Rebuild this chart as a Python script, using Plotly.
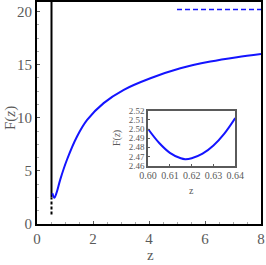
import plotly.graph_objects as go

# Main curve F(z)
z_main = [0.55, 0.62, 0.70, 0.83, 1.07, 1.43, 1.79, 2.38, 3.10, 4.05, 5.12, 6.19, 7.14, 8.0]
F_main = [2.90, 2.467, 2.95, 4.18, 6.05, 8.24, 9.80, 11.38, 12.63, 13.72, 14.66, 15.29, 15.70, 16.0]

# Inset (zoom near minimum)
z_inset = [0.600, 0.605, 0.610, 0.615, 0.617, 0.620, 0.625, 0.630, 0.635, 0.640]
F_inset = [2.500, 2.485, 2.474, 2.468, 2.467, 2.468, 2.473, 2.482, 2.495, 2.512]

# Vertical black line (asymptote) and horizontal dashed asymptote
z_vert = [0.518, 0.518]
F_vert_solid = [2.5, 20.9]
F_vert_dash = [0.9, 2.5]
z_hasym = [5.0, 8.0]
F_hasym = [20.2, 20.2]

x_ticks = [0, 2, 4, 6, 8]
y_ticks = [0, 5, 10, 15, 20]
xi_ticks = [0.60, 0.61, 0.62, 0.63, 0.64]
yi_ticks = [2.46, 2.47, 2.48, 2.49, 2.50, 2.51, 2.52]

blue = "#1414ff"
gray = "#5a5a5a"
font_fam = "Liberation Serif"

W, H = 266, 265
L, R, T, B = 37, 5, 2, 41
pw, ph = W - L - R, H - T - B


def px2paper(px, py):
    return (px - L) / pw, (H - B - py) / ph


fig = go.Figure()
fig.add_trace(go.Scatter(x=z_vert, y=F_vert_solid, mode="lines",
                         line=dict(color="black", width=2), showlegend=False))
fig.add_trace(go.Scatter(x=z_vert, y=F_vert_dash, mode="lines",
                         line=dict(color="black", width=2, dash="3px,2px"), showlegend=False))
fig.add_trace(go.Scatter(x=z_main, y=F_main, mode="lines", line_shape="spline",
                         line=dict(color=blue, width=2), showlegend=False))
fig.add_trace(go.Scatter(x=z_hasym, y=F_hasym, mode="lines",
                         line=dict(color=blue, width=1.5, dash="5px,3px"), showlegend=False))
fig.add_trace(go.Scatter(x=z_inset, y=F_inset, mode="lines", line_shape="spline",
                         line=dict(color=blue, width=2), showlegend=False,
                         xaxis="x2", yaxis="y2"))

ann_specs = [
    ("z", 150, 255, 15, 0),
    ("F(<i>z</i>)", 10, 118, 15, -90),
    ("z", 191, 190, 10, 0),
    ("F(<i>z</i>)", 117, 138, 10, -90),
]
annotations = []
for text, px, py, size, ang in ann_specs:
    x, y = px2paper(px, py)
    annotations.append(dict(text=text, x=x, y=y, xref="paper", yref="paper",
                            xanchor="center", yanchor="middle", showarrow=False,
                            textangle=ang, font=dict(size=size, color=gray)))

fig.update_layout(
    width=W, height=H,
    margin=dict(l=L, r=R, t=T, b=B),
    plot_bgcolor="white", paper_bgcolor="white",
    font=dict(family=font_fam, color=gray, size=15),
    xaxis=dict(range=[0, 8], tickvals=x_ticks, showgrid=False, zeroline=False,
               showline=True, mirror=True, linecolor="black", linewidth=2,
               ticks="inside", ticklen=3, tickcolor=gray, automargin=False,
               minor=dict(ticks="inside", ticklen=2, dtick=0.5, tickcolor="#aaaaaa"),
               tickfont=dict(size=15, color=gray)),
    yaxis=dict(range=[0, 20.9], tickvals=y_ticks, showgrid=False, zeroline=False,
               showline=True, mirror=True, linecolor="black", linewidth=2,
               ticks="inside", ticklen=3, tickcolor=gray, automargin=False,
               minor=dict(ticks="inside", ticklen=2, dtick=1.25, tickcolor="#aaaaaa"),
               tickfont=dict(size=15, color=gray)),
    xaxis2=dict(domain=[0.496, 0.885], anchor="y2", range=[0.6, 0.64], tickvals=xi_ticks,
                ticktext=["0.60", "0.61", "0.62", "0.63", "0.64"],
                showgrid=False, zeroline=False, showline=True, mirror=True,
                linecolor=gray, linewidth=1.5, ticks="inside", ticklen=2, tickcolor=gray,
                automargin=False, tickfont=dict(size=10, color=gray)),
    yaxis2=dict(domain=[0.263, 0.51], anchor="x2", range=[2.46, 2.52], tickvals=yi_ticks,
                ticktext=["2.46", "2.47", "2.48", "2.49", "2.50", "2.51", "2.52"],
                showgrid=False, zeroline=False, showline=True, mirror=True,
                linecolor=gray, linewidth=1.5, ticks="inside", ticklen=2, tickcolor=gray,
                automargin=False, tickfont=dict(size=9, color=gray)),
    annotations=annotations,
)

fig.write_html("out.html", config={"displayModeBar": False},
               post_script="document.body.style.margin='0px';document.body.style.overflow='hidden';")
